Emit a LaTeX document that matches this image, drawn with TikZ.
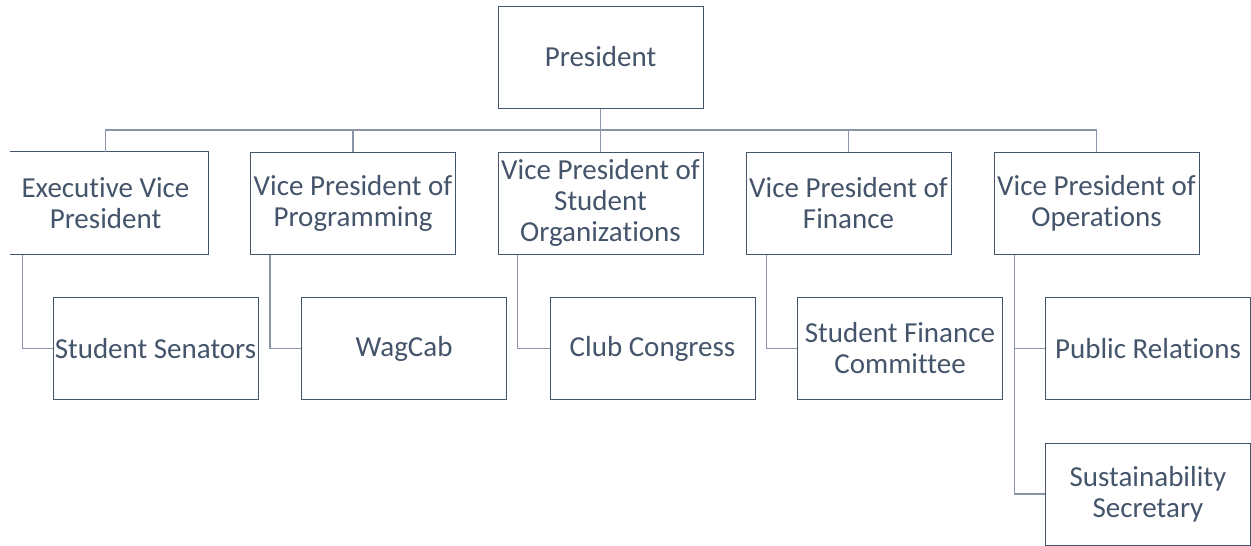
\documentclass[tikz,border=0pt]{standalone}
\usepackage{fontspec}
\setmainfont{Carlito}[Ligatures=NoCommon]
\definecolor{txt}{HTML}{44546A}
\definecolor{edge}{HTML}{44546A}
\definecolor{conn}{HTML}{8A96A8}
\begin{document}
\begin{tikzpicture}[x={(1pt,0)},y={(0,-1pt)},
  box/.style={draw=edge,line width=1pt,rectangle,minimum width=205pt,minimum height=102pt,inner sep=0pt,align=center,text=txt,font=\fontsize{29}{31}\selectfont},
  cline/.style={draw=conn,line width=1.3pt}]
\useasboundingbox (0,0) rectangle (1251,546);
\node[box] (pres) at (600.5,57) {President};
\node[box,draw=none] (ex) at (105.5,203) {Executive Vice\\President};
\node[box] (prog) at (353,203) {Vice President of\\Programming};
\node[box] (so) at (600.5,203) {Vice President of\\Student\\Organizations};
\node[box] (fin) at (848.5,203) {Vice President of\\Finance};
\node[box] (ops) at (1096.5,203) {Vice President of\\Operations};
\node[box] (sen) at (155.5,348.5) {Student Senators};
\node[box] (wag) at (404,348.5) {WagCab};
\node[box] (club) at (652.5,348.5) {Club Congress};
\node[box] (sfc) at (900,348.5) {Student Finance\\Committee};
\node[box] (pr) at (1148,348.5) {Public Relations};
\node[box] (ss) at (1148,494) {Sustainability\\Secretary};
\draw[draw=edge,line width=1pt] ([xshift=7pt]ex.north west) -- (ex.north east) -- (ex.south east) -- ([xshift=7pt]ex.south west);
\coordinate (busy) at (0,130);
\draw[cline] (pres.south) -- (pres.south |- busy);
\draw[cline] (ex.north) -- (ex.north |- busy) -- (ops.north |- busy) -- (ops.north);
\foreach \v in {prog,so,fin} \draw[cline] (\v.north) -- (\v.north |- busy);
\draw[cline] ([xshift=20pt]ex.south west) |- (sen.west);
\draw[cline] ([xshift=20pt]prog.south west) |- (wag.west);
\draw[cline] ([xshift=20pt]so.south west) |- (club.west);
\draw[cline] ([xshift=21pt]fin.south west) |- (sfc.west);
\draw[cline] ([xshift=21pt]ops.south west) |- (pr.west);
\draw[cline] ([xshift=21pt]ops.south west) |- (ss.west);
\end{tikzpicture}
\end{document}
